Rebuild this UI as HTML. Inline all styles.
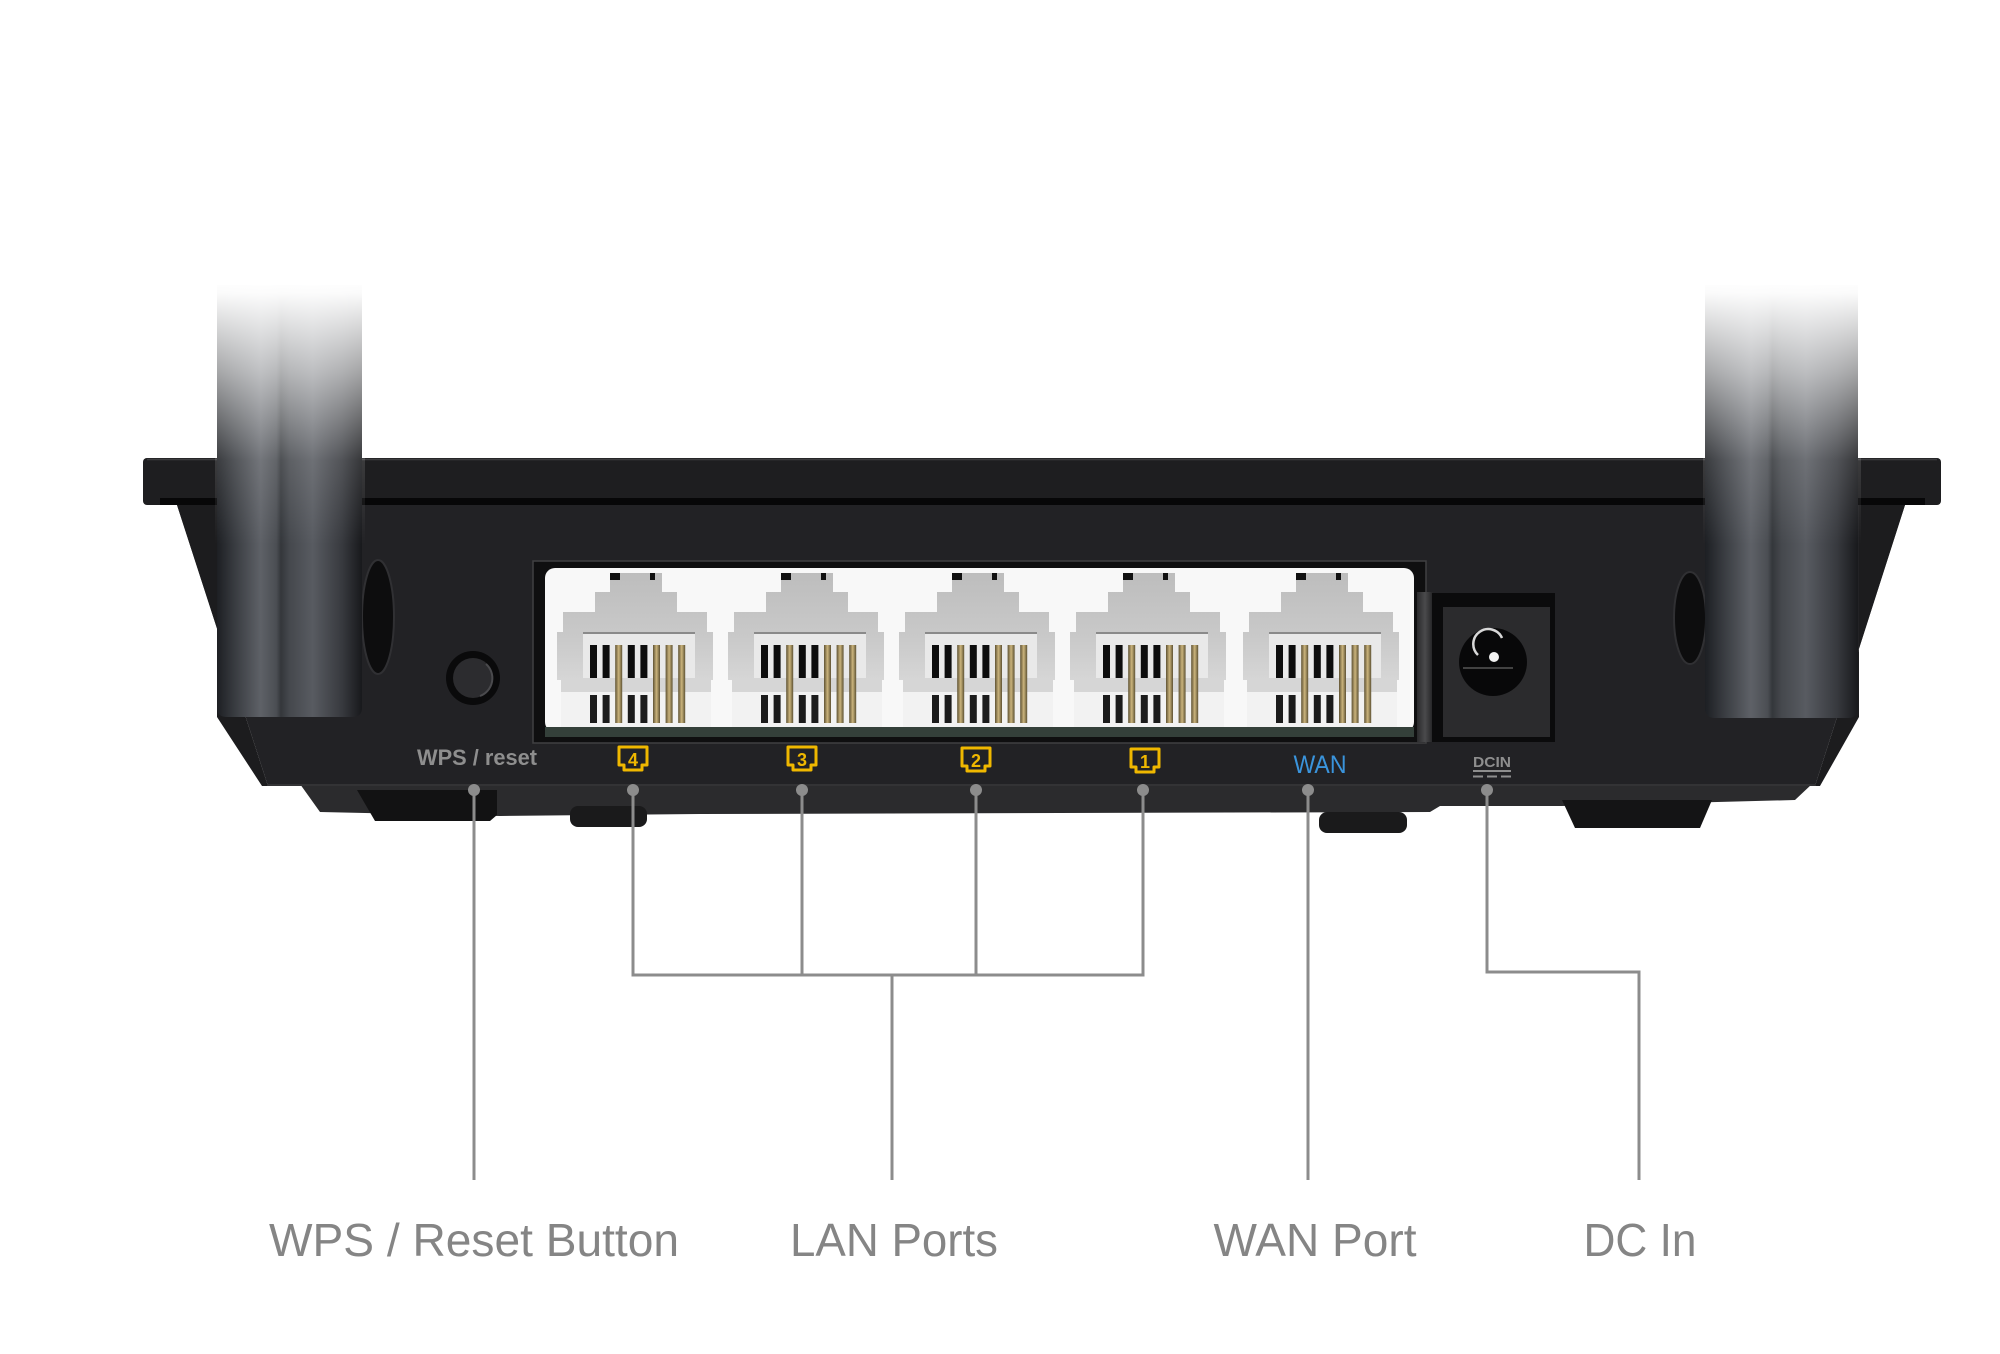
<!DOCTYPE html>
<html><head><meta charset="utf-8">
<style>
html,body{margin:0;padding:0;background:#fff;}
svg{display:block;}
text{font-family:"Liberation Sans",Arial,sans-serif;}
</style></head>
<body>
<svg width="2000" height="1354" viewBox="0 0 2000 1354" xmlns="http://www.w3.org/2000/svg">
<defs>
  <linearGradient id="ant" x1="0" x2="1" y1="0" y2="0">
    <stop offset="0" stop-color="#1d1f23"/>
    <stop offset="0.12" stop-color="#383b40"/>
    <stop offset="0.3" stop-color="#5e6167"/>
    <stop offset="0.41" stop-color="#4b4e53"/>
    <stop offset="0.44" stop-color="#34373b"/>
    <stop offset="0.5" stop-color="#45484d"/>
    <stop offset="0.66" stop-color="#585b61"/>
    <stop offset="0.86" stop-color="#383a3f"/>
    <stop offset="1" stop-color="#18191c"/>
  </linearGradient>
  <linearGradient id="fade" gradientUnits="userSpaceOnUse" x1="0" y1="280" x2="0" y2="545">
    <stop offset="0" stop-color="#fff" stop-opacity="1"/>
    <stop offset="0.05" stop-color="#fff" stop-opacity="0.98"/>
    <stop offset="0.35" stop-color="#fff" stop-opacity="0.6"/>
    <stop offset="0.68" stop-color="#fff" stop-opacity="0.13"/>
    <stop offset="1" stop-color="#fff" stop-opacity="0"/>
  </linearGradient>
  <linearGradient id="pg" x1="0" x2="0" y1="0" y2="1">
    <stop offset="0" stop-color="#bdbdbd"/>
    <stop offset="0.6" stop-color="#c9c9c9"/>
    <stop offset="1" stop-color="#d6d6d6"/>
  </linearGradient>
  <linearGradient id="gold" x1="0" x2="1" y1="0" y2="0">
    <stop offset="0" stop-color="#5e5233"/>
    <stop offset="0.5" stop-color="#cbb47c"/>
    <stop offset="1" stop-color="#5e5233"/>
  </linearGradient>
  <linearGradient id="sep" x1="0" x2="1" y1="0" y2="0">
    <stop offset="0" stop-color="#2a2a2c"/>
    <stop offset="0.5" stop-color="#4a4a4c"/>
    <stop offset="1" stop-color="#232325"/>
  </linearGradient>
  <g id="port">
    <path d="M-25 573 H27 V592 H42 V612 H72 V632 H78 V680 H-78 V632 H-72 V612 H-40 V592 H-25 Z" fill="url(#pg)"/>
    <rect x="-25" y="573" width="10" height="7" fill="#111"/>
    <rect x="15" y="573" width="5" height="7" fill="#111"/>
    <rect x="-74" y="678" width="150" height="49" fill="#f2f2f2"/>
    <rect x="-74" y="678" width="150" height="14" fill="#d6d6d6"/>
    <rect x="-52" y="632" width="112" height="46" fill="#e9e9e9"/>
    <rect x="-52" y="632" width="112" height="2" fill="#8a8a8a"/>
    <rect x="-45" y="645" width="7" height="33" fill="#0d0d0d"/>
    <rect x="-32.4" y="645" width="7" height="33" fill="#0d0d0d"/>
    <rect x="-7.2" y="645" width="7" height="33" fill="#0d0d0d"/>
    <rect x="5.4" y="645" width="7" height="33" fill="#0d0d0d"/>
    <rect x="-45" y="695" width="7" height="28" fill="#1b1b1b"/>
    <rect x="-32.4" y="695" width="7" height="28" fill="#1b1b1b"/>
    <rect x="-7.2" y="695" width="7" height="28" fill="#1b1b1b"/>
    <rect x="5.4" y="695" width="7" height="28" fill="#1b1b1b"/>
    <rect x="-19.8" y="645" width="7" height="78" fill="url(#gold)"/>
    <rect x="18" y="645" width="7" height="78" fill="url(#gold)"/>
    <rect x="30.6" y="645" width="7" height="78" fill="url(#gold)"/>
    <rect x="43.2" y="645" width="7" height="78" fill="url(#gold)"/>
  </g>
  <g id="badge">
    <path d="M-14 -12 H14 V6 H9 V11 H-9 V6 H-14 Z" fill="none" stroke="#f0b800" stroke-width="3" stroke-linejoin="round"/>
  </g>
</defs>

<rect width="2000" height="1354" fill="#fff"/>

<!-- base strip and feet -->
<polygon points="300,784 1812,784 1795,800 1562,806 1440,806 1430,812 700,814 500,816 320,812" fill="#2b2b2d"/>
<polygon points="357,790 497,790 497,815 490,821 375,821" fill="#121213"/>
<rect x="570" y="806" width="77" height="21" rx="8" fill="#1a1a1b"/>
<rect x="1319" y="812" width="88" height="21" rx="8" fill="#1a1a1b"/>
<polygon points="1562,800 1712,800 1700,828 1575,828" fill="#141415"/>

<!-- body -->
<polygon points="177,505 1905,505 1815,786 268,786" fill="#222225"/>
<polygon points="177,505 217,505 217,717 262,786 268,786" fill="#1c1c1e"/>
<polygon points="1905,505 1859,505 1859,717 1820,786 1815,786" fill="#1c1c1e"/>
<line x1="268" y1="785" x2="1815" y2="785" stroke="#333335" stroke-width="2"/>

<!-- lid -->
<rect x="143" y="458" width="1798" height="47" rx="4" fill="#1e1e20"/>
<line x1="147" y1="459.5" x2="1937" y2="459.5" stroke="#3c3c3f" stroke-width="1.5"/>
<rect x="160" y="498" width="1765" height="7" fill="#070708"/>

<!-- hinge discs -->
<ellipse cx="378" cy="617" rx="16" ry="57" fill="#0d0d0e" stroke="#303033" stroke-width="2"/>
<ellipse cx="1690" cy="618" rx="16" ry="46" fill="#0d0d0e" stroke="#303033" stroke-width="2"/>

<!-- antennas -->
<path d="M217 285 H362 V708 Q362 717 352 717 H227 Q217 717 217 708 Z" fill="url(#ant)"/>
<rect x="215" y="280" width="150" height="266" fill="url(#fade)"/>
<path d="M1705 285 H1858 V708 Q1858 718 1848 718 H1715 Q1705 718 1705 708 Z" fill="url(#ant)"/>
<rect x="1703" y="280" width="158" height="266" fill="url(#fade)"/>

<!-- port panel -->
<rect x="533" y="561" width="893" height="182" fill="#0f0f10" stroke="#404042" stroke-width="1.5"/>
<rect x="545" y="568" width="869" height="164" rx="10" fill="#f8f8f8"/>
<use href="#port" transform="translate(635,0)"/>
<use href="#port" transform="translate(806,0)"/>
<use href="#port" transform="translate(977,0)"/>
<use href="#port" transform="translate(1148,0)"/>
<use href="#port" transform="translate(1321,0)"/>
<rect x="545" y="727" width="869" height="10" fill="#34403a"/>
<rect x="1417" y="592" width="16" height="150" fill="url(#sep)"/>

<!-- DC jack -->
<rect x="1432" y="593" width="123" height="149" fill="#0b0b0c"/>
<rect x="1443" y="607" width="107" height="130" fill="#2b2b2d"/>
<circle cx="1493" cy="662" r="34" fill="#080809"/>
<path d="M1478 655 A15 15 0 1 1 1502 638" fill="none" stroke="#d8d8d8" stroke-width="2.5"/>
<circle cx="1494" cy="657" r="5" fill="#f2f2f2"/>
<line x1="1463" y1="668" x2="1513" y2="668" stroke="#555" stroke-width="1.5"/>

<!-- WPS button -->
<circle cx="473" cy="678" r="27" fill="#0a0a0b"/>
<circle cx="473" cy="678" r="20" fill="#2c2c2f"/>
<path d="M486 664 A19 19 0 0 1 480 696" fill="none" stroke="#4a4a4d" stroke-width="2"/>

<!-- body labels -->
<text x="477" y="765" font-size="22" font-weight="bold" fill="#8e8e8e" text-anchor="middle" textLength="120" lengthAdjust="spacingAndGlyphs">WPS / reset</text>
<use href="#badge" transform="translate(633,759)"/>
<text x="633" y="766" font-size="18" font-weight="bold" fill="#f0b800" text-anchor="middle">4</text>
<use href="#badge" transform="translate(802,759)"/>
<text x="802" y="766" font-size="18" font-weight="bold" fill="#f0b800" text-anchor="middle">3</text>
<use href="#badge" transform="translate(976,760)"/>
<text x="976" y="767" font-size="18" font-weight="bold" fill="#f0b800" text-anchor="middle">2</text>
<use href="#badge" transform="translate(1145,761)"/>
<text x="1145" y="768" font-size="18" font-weight="bold" fill="#f0b800" text-anchor="middle">1</text>
<text x="1320" y="773" font-size="25" fill="#3a94dc" text-anchor="middle" textLength="53" lengthAdjust="spacingAndGlyphs">WAN</text>
<text x="1492" y="767" font-size="15" font-weight="bold" fill="#8e8e8e" text-anchor="middle" textLength="38" lengthAdjust="spacingAndGlyphs">DCIN</text>
<line x1="1473" y1="771" x2="1511" y2="771" stroke="#8e8e8e" stroke-width="2"/>
<line x1="1473" y1="776.5" x2="1511" y2="776.5" stroke="#8e8e8e" stroke-width="2" stroke-dasharray="10,4"/>

<!-- connectors -->
<g stroke="#8c8c8c" stroke-width="3" fill="none">
  <line x1="474" y1="790" x2="474" y2="1180"/>
  <line x1="633" y1="790" x2="633" y2="975"/>
  <line x1="802" y1="790" x2="802" y2="975"/>
  <line x1="976" y1="790" x2="976" y2="975"/>
  <line x1="1143" y1="790" x2="1143" y2="975"/>
  <line x1="631.5" y1="975" x2="1144.5" y2="975"/>
  <line x1="892" y1="975" x2="892" y2="1180"/>
  <line x1="1308" y1="790" x2="1308" y2="1180"/>
  <polyline points="1487,790 1487,972 1639,972 1639,1180"/>
</g>
<g fill="#8c8c8c">
  <circle cx="474" cy="790" r="6"/>
  <circle cx="633" cy="790" r="6"/>
  <circle cx="802" cy="790" r="6"/>
  <circle cx="976" cy="790" r="6"/>
  <circle cx="1143" cy="790" r="6"/>
  <circle cx="1308" cy="790" r="6"/>
  <circle cx="1487" cy="790" r="6"/>
</g>

<!-- bottom labels -->
<g font-size="46" fill="#858585" text-anchor="middle">
  <text x="474" y="1256" textLength="410" lengthAdjust="spacingAndGlyphs">WPS / Reset Button</text>
  <text x="894" y="1256" textLength="208" lengthAdjust="spacingAndGlyphs">LAN Ports</text>
  <text x="1315" y="1256" textLength="203" lengthAdjust="spacingAndGlyphs">WAN Port</text>
  <text x="1640" y="1256" textLength="113" lengthAdjust="spacingAndGlyphs">DC In</text>
</g>
</svg>
</body></html>
